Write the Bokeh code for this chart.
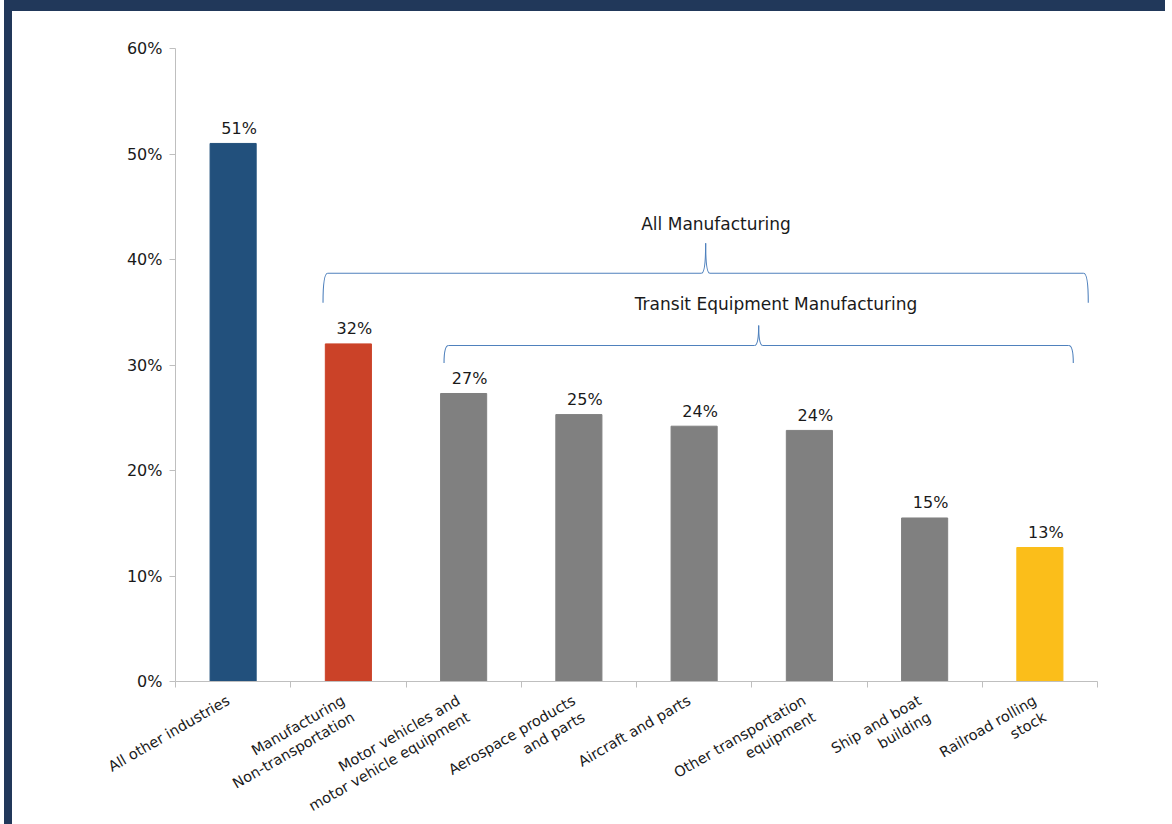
import math
from bokeh.plotting import figure
from bokeh.models import FixedTicker, PrintfTickFormatter, ColumnDataSource, LinearAxis, Range1d
from bokeh.core.properties import value
from bokeh.embed import file_html
from bokeh.resources import INLINE

# ---------------- data ----------------
categories = [
    "All other industries",
    "Manufacturing\nNon-transportation",
    "Motor vehicles and\nmotor vehicle equipment",
    "Aerospace products\nand parts",
    "Aircraft and parts",
    "Other transportation\nequipment",
    "Ship and boat\nbuilding",
    "Railroad rolling\nstock",
]
values = [51.0, 32.0, 27.3, 25.3, 24.2, 23.8, 15.5, 12.7]
value_labels = ["51%", "32%", "27%", "25%", "24%", "24%", "15%", "13%"]
bar_colors = ["#22507C", "#CB4228", "#808080", "#808080", "#808080", "#808080", "#808080", "#FBBE1A"]
y_ticks = [0, 10, 20, 30, 40, 50, 60]

brace_labels = ["All Manufacturing", "Transit Equipment Manufacturing"]

# ---------------- layout / style constants ----------------
FONT = "DejaVu Sans"
TEXT = "#1a1a1a"
AXIS = "#bfbfbf"
BRACE = "#4F81BD"
NAVY = "#21385A"
BAR_W = 0.4

# brace geometry (data units: x in category widths, y in percent)
brace_x0 = [1.28, 2.33]
brace_x1 = [7.92, 7.79]
brace_y = [38.7, 31.85]
brace_drop = [2.8, 1.65]
brace_tip = [2.85, 1.9]
brace_text_x = [4.69, 5.21]
brace_text_y = [43.4, 35.75]
R_END = 0.04
W_TIP = 0.036

n = len(categories)
xc = [i + 0.5 for i in range(n)]
# single-line labels get an empty second line so they sit like the wrapped ones
tick_text = [c if "\n" in c else c + "\n" for c in categories]

p = figure(
    frame_width=922, frame_height=633,
    x_range=Range1d(0, n), y_range=Range1d(0, 60),
    output_backend="svg", toolbar_location=None,
    min_border_left=163, min_border_top=37, min_border_right=68, min_border_bottom=135,
    x_axis_location=None, y_axis_location=None,
    background_fill_color="white", border_fill_color="white",
)
p.styles = {"margin-left": "4px",
            "border-left": f"8px solid {NAVY}", "border-top": f"11px solid {NAVY}"}
p.outline_line_color = None
p.xgrid.visible = False
p.ygrid.visible = False

# y axis
yax = LinearAxis(
    ticker=FixedTicker(ticks=y_ticks, minor_ticks=[]),
    formatter=PrintfTickFormatter(format="%d%%"),
    axis_line_color=AXIS, major_tick_line_color=AXIS,
    major_tick_in=0, major_tick_out=6, minor_tick_line_color=None,
    major_label_text_font=FONT, major_label_text_font_size="16px",
    major_label_text_color=TEXT, major_label_standoff=7,
)
p.add_layout(yax, "left")

# x axis (labels at centers, ticks at category boundaries)
xax = LinearAxis(
    ticker=FixedTicker(ticks=xc, minor_ticks=list(range(n + 1))),
    major_label_overrides={x: c for x, c in zip(xc, tick_text)},
    axis_line_color=AXIS, major_tick_line_color=None,
    major_tick_in=0, major_tick_out=0,
    minor_tick_line_color=AXIS, minor_tick_in=0, minor_tick_out=6,
    major_label_orientation=math.pi / 6,
    major_label_text_font=FONT, major_label_text_font_size="14.5px",
    major_label_text_color=TEXT, major_label_standoff=20,
)
p.add_layout(xax, "below")

src = ColumnDataSource(dict(x=xc, top=values, color=bar_colors, lab=value_labels))
p.vbar(x="x", top="top", width=BAR_W, color="color", source=src)
p.text(x="x", y="top", text="lab", source=src, x_offset=6, y_offset=-15,
       text_align="center", text_baseline="alphabetic",
       text_font=value(FONT), text_font_size="16px", text_color=TEXT)

# braces
for x0, x1, yh, d, t, tx, ty, lab in zip(brace_x0, brace_x1, brace_y, brace_drop, brace_tip,
                                        brace_text_x, brace_text_y, brace_labels):
    xm = (x0 + x1) / 2
    p.segment(x0=[x0 + R_END, xm + W_TIP], y0=[yh, yh], x1=[xm - W_TIP, x1 - R_END], y1=[yh, yh],
              line_color=BRACE, line_width=1.1)
    p.quadratic(x0=[x0, x1, xm - W_TIP, xm + W_TIP],
                y0=[yh - d, yh - d, yh, yh],
                x1=[x0 + R_END, x1 - R_END, xm, xm],
                y1=[yh, yh, yh + t, yh + t],
                cx=[x0, x1, xm, xm],
                cy=[yh, yh, yh, yh],
                line_color=BRACE, line_width=1.1)
    p.text(x=[tx], y=[ty], text=[lab], text_align="center", text_baseline="alphabetic",
           text_font=value(FONT), text_font_size="17px", text_color=TEXT)

open("out.html", "w").write(file_html(p, INLINE))
